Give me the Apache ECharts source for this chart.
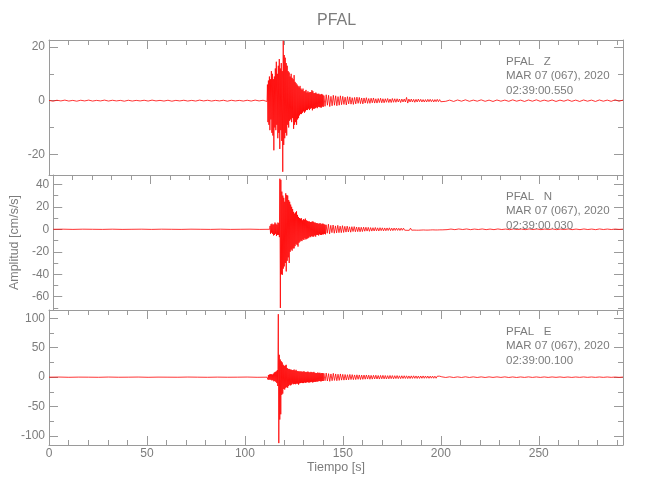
<!DOCTYPE html>
<html><head><meta charset="utf-8">
<script src="https://cdn.jsdelivr.net/npm/echarts@6/dist/echarts.min.js"></script>
<style>html,body{margin:0;padding:0;background:#fff}#c{width:650px;height:500px}</style>
</head><body><div id="c"></div><script>
const FONT = "'Liberation Sans',Arial,sans-serif";
const chartTitle = 'PFAL';
const xName = 'Tiempo [s]';
const yName = 'Amplitud [cm/s/s]';
const xRange = [0, 293];
const xMajorTicks = [0, 50, 100, 150, 200, 250];
const xMinorTicks = [10,20,30,40,60,70,80,90,110,120,130,140,160,170,180,190,210,220,230,240,260,270,280,290];
const stationLabels = ['PFAL   Z', 'PFAL   N', 'PFAL   E'];
const dateLabels = ['MAR 07 (067), 2020', 'MAR 07 (067), 2020', 'MAR 07 (067), 2020'];
const timeLabels = ['02:39:00.550', '02:39:00.030', '02:39:00.100'];
const yRanges = [[-27.7, 22.6], [-71.8, 48.3], [-115.2, 114.1]];
const yMajorTicks = [[-20, 0, 20], [-60, -40, -20, 0, 20, 40], [-100, -50, 0, 50, 100]];
const yMinorTicks = [[-10, 10], [-70, -50, -30, -10, 10, 30], [-75, -25, 25, 75]];
// time spans (s) of the sample segments: pre-event, strong motion, coda, tail
const segSpans = [[0, 111.3], [111.5, 140], [140.3, 200], [200.5, 293]];

// ---- Z component ----
const zPre = [0.1,-0.2,0.15,-0.1,0.2,-0.15,0.1,-0.2,0.15,-0.1,0.2,-0.15,0.1,-0.1,0.2,-0.15,0.15,-0.1,0.1,-0.2,0.15,-0.15,0.1,-0.1,0.15,-0.15,0.2,-0.1,0.1,-0.15,0.15,-0.2,0.1,-0.1,0.15,-0.15,0.1,-0.15,0.2,-0.1,0.15,-0.15,0.1,-0.1,0.15,-0.2,0.15,-0.1,0.1,-0.15,0.15,-0.15,0.2,-0.1,0.15,-0.3];
const zStrong = [6,-8,7.5,-9, 9,-11,8,-7, 11,-12,10,-13, 8,-18.5,9,-10, 12,-11,14.5,-9, 10,-14,13,-12, 15.5,-18,12,-11, 14,-15,11,-26.5, 22.3,-16.5,17,-14, 16,-12,14,-13, 13,-9,11,-10, 10.5,-7.5,9,-7, 10,-8,8.5,-6.5, 8,-10.5,9.5,-9, 7,-8,6.5,-9, 6,-7,5.5,-6.5, 5,-5.5,5.5,-5, 4.5,-5,4,-4.5, 4.5,-4,3.5,-4.5, 3.5,-4,4,-3.5, 3,-3.5,3.5,-3, 3,-3.5,3.2,-3, 3.2,-2.8,3.9,-3.6, 3.5,-3,2.8,-3, 2.8,-2.8,3,-2.5, 2.6,-2.8,2.5,-2.3, 2.6,-2.4,2.3,-2.5, 2.3,-2.6,2.5,-2.2, 2.2,-2.3];
const zCoda = [1.9,-2.1,2.2,-1.7,2,-2.2,1.6,-1.9,2,-1.7,1.8,-1.9,1.5,-1.7,1.8,-1.5,1.6, -1.4,1.3,-1.6,1.5,-1.2,1.4,-1.3,1.1,-1.4,1.2,-1.2,1.3,-1.0,1.2,-1.1,1.0,-1.2, 1.0,-0.9,1.1,-1.0,0.8,-1.0,0.9,-0.8,1.0,-0.9,0.7,-0.9,0.8,-0.7,0.9,-0.8,0.7, -0.8,0.7,-0.6,0.8,-0.7,0.6,-0.7,0.8,-0.6,0.7,-0.6,0.7,-0.5,0.6,-0.7,0.6,-0.5, 0.6,-0.5,1.2,-0.9,0.6,-0.5,0.6,-0.5,0.5,-0.6,0.5,-0.5,0.6,-0.4,0.5,-0.5,0.4, -0.5,0.4,-0.5,0.5,-0.4,0.5,-0.4,0.4,-0.5,0.4,-0.4,0.5,-0.4,0.4,-0.4];
const zTail = [0.3,-0.25,0.2,-0.3,0.25,-0.2,0.3,-0.25,0.2,-0.2,0.3,-0.25,0.2,-0.3,0.25,-0.2,0.2,-0.25,0.3,-0.2,0.2,-0.3,0.25,-0.2,0.3,-0.25,0.2,-0.2,0.25,-0.3,0.2,-0.2,0.3,-0.25,0.2,-0.3,0.25,-0.2,0.2,-0.3,0.25,-0.2,0.2,-0.25,0.3,-0.2,0.2];

// ---- N component ----
const nPre = [0,0.1,-0.1,0.1,0,-0.1,0.1,-0.1,0,0.1,-0.1,0.1,0,-0.1,0.1,0,-0.1,0.1,-0.1,0,0.1,-0.1,0];
const nStrong = [3,-4,4.5,-3, 5,-4,4,-5.5, 4.5,-5,6,-4, 5,-6,4,-5, 6,-5,5.5,-7, 45,-70,44,-40, 33.5,-40.5,30,-35, 28,-33,24.5,-30, 32,-37.5,30.5,-28, 30,-25,26,-30, 24.5,-20,22,-18, 20,-19,18,-17, 15.5,-17,14,-15, 15,-13,16,-14, 12.8,-15.4,11,-12, 10,-11,9.5,-10, 9.8,-10.5,8,-9, 9,-9.5,8.5,-8, 9.5,-9,8,-8.5, 7.5,-8,7,-7.5, 7,-6.5,6.5,-7, 6.5,-6,7,-6.5, 6.8,-6.5,6,-5.5, 6,-6.5,5.5,-5, 5.5,-5,5,-5.5, 5,-4.5,5.5,-5, 4.5,-5,5,-4.5, 5,-4.5,4.5,-4, 4,-4.5];
const nCoda = [4,-3.5,4.5,-4,3.5,-3,3.8,-3.5,3,-3.2,3.5,-3,2.8,-3,3.2,-2.8,2.6, -2.5,2.8,-2.4,2.2,-2.6,2.3,-2,2.4,-2.2,2,-2.1,1.9,-2.2,1.8,-2,1.9,-1.7, 1.8,-1.6,1.7,-1.8,1.5,-1.6,1.4,-1.5,1.6,-1.4,1.3,-1.5,1.4,-1.2,1.3,-1.4,1.2, -1.3,1.2,-1.1,1.3,-1.2,1.0,-1.2,1.1,-1.0,1.1,-1.0,0.9,-1.1,1.0,-0.9,1.0,-0.8, 0.9,-0.9,0.8,-0.9,1.0,-0.8,0.8,-0.7,0.9,-0.8,0.7,-0.8,0.7,-0.7,0.8,-0.6,0.7, -0.7,0.6,-0.7,0.6,-0.6,0.7,-0.5,0.6,-0.6,0.5,-0.6,0.5,-0.5,0.5,-0.5];
const nTail = [0.3,-0.3,0.2,-0.3,0.3,-0.2,0.3,-0.3,0.2,-0.2,0.3,-0.3,0.2,-0.3,0.3,-0.2,0.2,-0.3,0.3,-0.2,0.2,-0.3,0.3,-0.2,0.3,-0.3,0.2,-0.2,0.3,-0.3,0.2,-0.2,0.3,-0.3,0.2,-0.3,0.3,-0.2,0.2,-0.3,0.3,-0.2,0.2,-0.2,0.2,-0.1,0.1];

// ---- E component ----
const ePre = [0,0.2,-0.2,0.1,0,-0.2,0.2,-0.1,0,0.2,-0.2,0.1,0,-0.1,0.2,0,-0.2,0.1,-0.1,0,0.2,-0.2,0];
const eStrong = [3,-4,3.5,-4.5, 4.5,-4,5,-4.5, 5,-5.5,4.5,-5, 6,-7,8,-6.5, 9,-8,10,-10, 12,-15,107,-112, 38,-72,30,-63, 27,-30,25,-28, 21,-20,19,-21, 20,-18,21,-17, 15.6,-18,14,-15, 14,-13,13,-14, 12.8,-12.7,12,-11, 12,-12,13,-11.5, 11,-12,12.5,-11, 10.5,-11,10,-12.7, 10,-10.5,9.5,-10, 10,-9.5,9,-10, 9.5,-10,10,-9, 9,-9.5,8.5,-9, 9,-8.5,9.5,-9, 8.5,-9,8,-8.5, 9,-8,8.5,-9, 8,-8.5,9,-8, 7.5,-8,7,-7.5, 7,-7.5,8,-7, 7,-6.5,7.5,-7, 6.5,-7,7,-6.5, 7,-6.5];
const eCoda = [6.5,-6,7,-6.5,6,-7,5.5,-6,6.5,-5.5,5.5,-6,5,-5.5,5.5,-5,4.8, -5,4.5,-4.8,4.2,-4.5,4.6,-4,4.3,-4.2,3.8,-4.1,4,-3.6,3.8,-3.9,3.5,-3.7, 3.6,-3.4,3.7,-3.2,3.4,-3.5,3.1,-3.3,3.2,-3,3.3,-3.1,2.9,-3.2,3,-2.8,3.1, -2.9,2.8,-3,2.6,-2.8,2.9,-2.5,2.7,-2.8,2.5,-2.4,2.7,-2.5,2.3,-2.5,2.4,-2.2, 2.4,-2.2,2.3,-2.4,2.1,-2.3,2.2,-2.1,2.3,-2,2.1,-2.2,2,-2.1,2,-1.9,2.1, -1.9,2,-1.8,1.9,-1.9,1.8,-1.7,1.9,-1.8,1.7,-1.8,1.6,-1.7,1.7,-1.6];
const eTail = [0.6,-0.5,0.6,-0.6,0.5,-0.5,0.6,-0.5,0.5,-0.5,0.5,-0.5,0.5,-0.4,0.5,-0.4,0.5,-0.5,0.4,-0.5,0.4,-0.4,0.5,-0.4,0.4,-0.4,0.4,-0.4,0.4,-0.3,0.4,-0.4,0.3,-0.4,0.3,-0.3,0.4,-0.3,0.3,-0.3,0.3,-0.3,0.3,-0.3,0.2,-0.3,0.2];

const components = [
  [zPre, zStrong, zCoda, zTail],
  [nPre, nStrong, nCoda, nTail],
  [ePre, eStrong, eCoda, eTail]
];

// place each segment's samples evenly across its time span
function toPairs(segs) {
  const out = [];
  segs.forEach((vals, s) => {
    const [t0, t1] = segSpans[s];
    const n = vals.length;
    vals.forEach((v, i) => out.push([t0 + (n > 1 ? i * (t1 - t0) / (n - 1) : 0), v]));
  });
  return out;
}

const AX = '#9a9a9a';
const TXT = '#7c7c7c';
const GRID_TOP = [40, 175, 310];
const GRID_H = 135;

const grids = [], xAxes = [], yAxes = [], series = [], titles = [];
titles.push({text: chartTitle, left: 317, top: 13, padding: 0,
  textStyle: {fontSize: 16, fontWeight: 'normal', color: TXT, fontFamily: FONT}});

function baseAxis(extra) {
  return Object.assign({
    type: 'value', splitLine: {show: false},
    axisLine: {show: false, onZero: false, lineStyle: {color: AX, width: 1}},
    axisTick: {show: false}, axisLabel: {show: false}
  }, extra);
}
function ticks(vals, len) {
  return {show: true, inside: true, length: len, customValues: vals, lineStyle: {color: AX, width: 1}};
}

for (let g = 0; g < 3; g++) {
  grids.push({left: 49, right: 27, top: GRID_TOP[g], height: GRID_H, containLabel: false});
  const last = g === 2;
  const xBase = xAxes.length;
  xAxes.push(baseAxis({gridIndex: g, position: 'bottom', min: xRange[0], max: xRange[1],
    axisLine: {show: true, onZero: false, lineStyle: {color: AX, width: 1}},
    axisTick: last ? ticks(xMajorTicks, 9) : {show: false},
    axisLabel: last ? {show: true, customValues: xMajorTicks, margin: 3, color: TXT, fontSize: 12, fontFamily: FONT} : {show: false},
    name: last ? xName : '', nameLocation: 'middle', nameGap: 14,
    nameTextStyle: {color: TXT, fontSize: 12.5, fontFamily: FONT}}));
  if (last) xAxes.push(baseAxis({gridIndex: g, position: 'bottom', min: xRange[0], max: xRange[1], axisTick: ticks(xMinorTicks, 5)}));
  xAxes.push(baseAxis({gridIndex: g, position: 'top', min: xRange[0], max: xRange[1],
    axisLine: {show: true, onZero: false, lineStyle: {color: AX, width: 1}}, axisTick: ticks(xMajorTicks, 9)}));
  xAxes.push(baseAxis({gridIndex: g, position: 'top', min: xRange[0], max: xRange[1], axisTick: ticks(xMinorTicks, 5)}));

  const yBase = yAxes.length;
  const [ymin, ymax] = yRanges[g];
  yAxes.push(baseAxis({gridIndex: g, position: 'left', min: ymin, max: ymax,
    axisLine: {show: true, onZero: false, lineStyle: {color: AX, width: 1}},
    axisTick: ticks(yMajorTicks[g], 9),
    axisLabel: {show: true, customValues: yMajorTicks[g], margin: 4, color: TXT, fontSize: 12, fontFamily: FONT},
    name: g === 1 ? yName : '', nameLocation: 'middle', nameGap: 25, nameRotate: 90,
    nameTextStyle: {color: TXT, fontSize: 12.5, fontFamily: FONT}}));
  yAxes.push(baseAxis({gridIndex: g, position: 'left', min: ymin, max: ymax, axisTick: ticks(yMinorTicks[g], 5)}));
  yAxes.push(baseAxis({gridIndex: g, position: 'right', min: ymin, max: ymax,
    axisLine: {show: true, onZero: false, lineStyle: {color: AX, width: 1}}, axisTick: ticks(yMajorTicks[g], 9)}));
  yAxes.push(baseAxis({gridIndex: g, position: 'right', min: ymin, max: ymax, axisTick: ticks(yMinorTicks[g], 5)}));

  series.push({type: 'line', xAxisIndex: xBase, yAxisIndex: yBase, data: toPairs(components[g]),
    showSymbol: false, symbol: 'none', clip: true, animation: false, silent: true,
    lineStyle: {color: '#ff0000', width: 0.8}});

  titles.push({text: stationLabels[g] + '\n' + dateLabels[g] + '\n' + timeLabels[g],
    left: 506, top: GRID_TOP[g] + 14.5, padding: 0,
    textStyle: {fontSize: 11.5, lineHeight: 14.5, fontWeight: 'normal', color: TXT, fontFamily: FONT}});
}

const chart = echarts.init(document.getElementById('c'), null, {renderer: 'canvas'});
chart.setOption({
  animation: false, backgroundColor: '#ffffff',
  title: titles, grid: grids, xAxis: xAxes, yAxis: yAxes, series: series
});
</script></body></html>
